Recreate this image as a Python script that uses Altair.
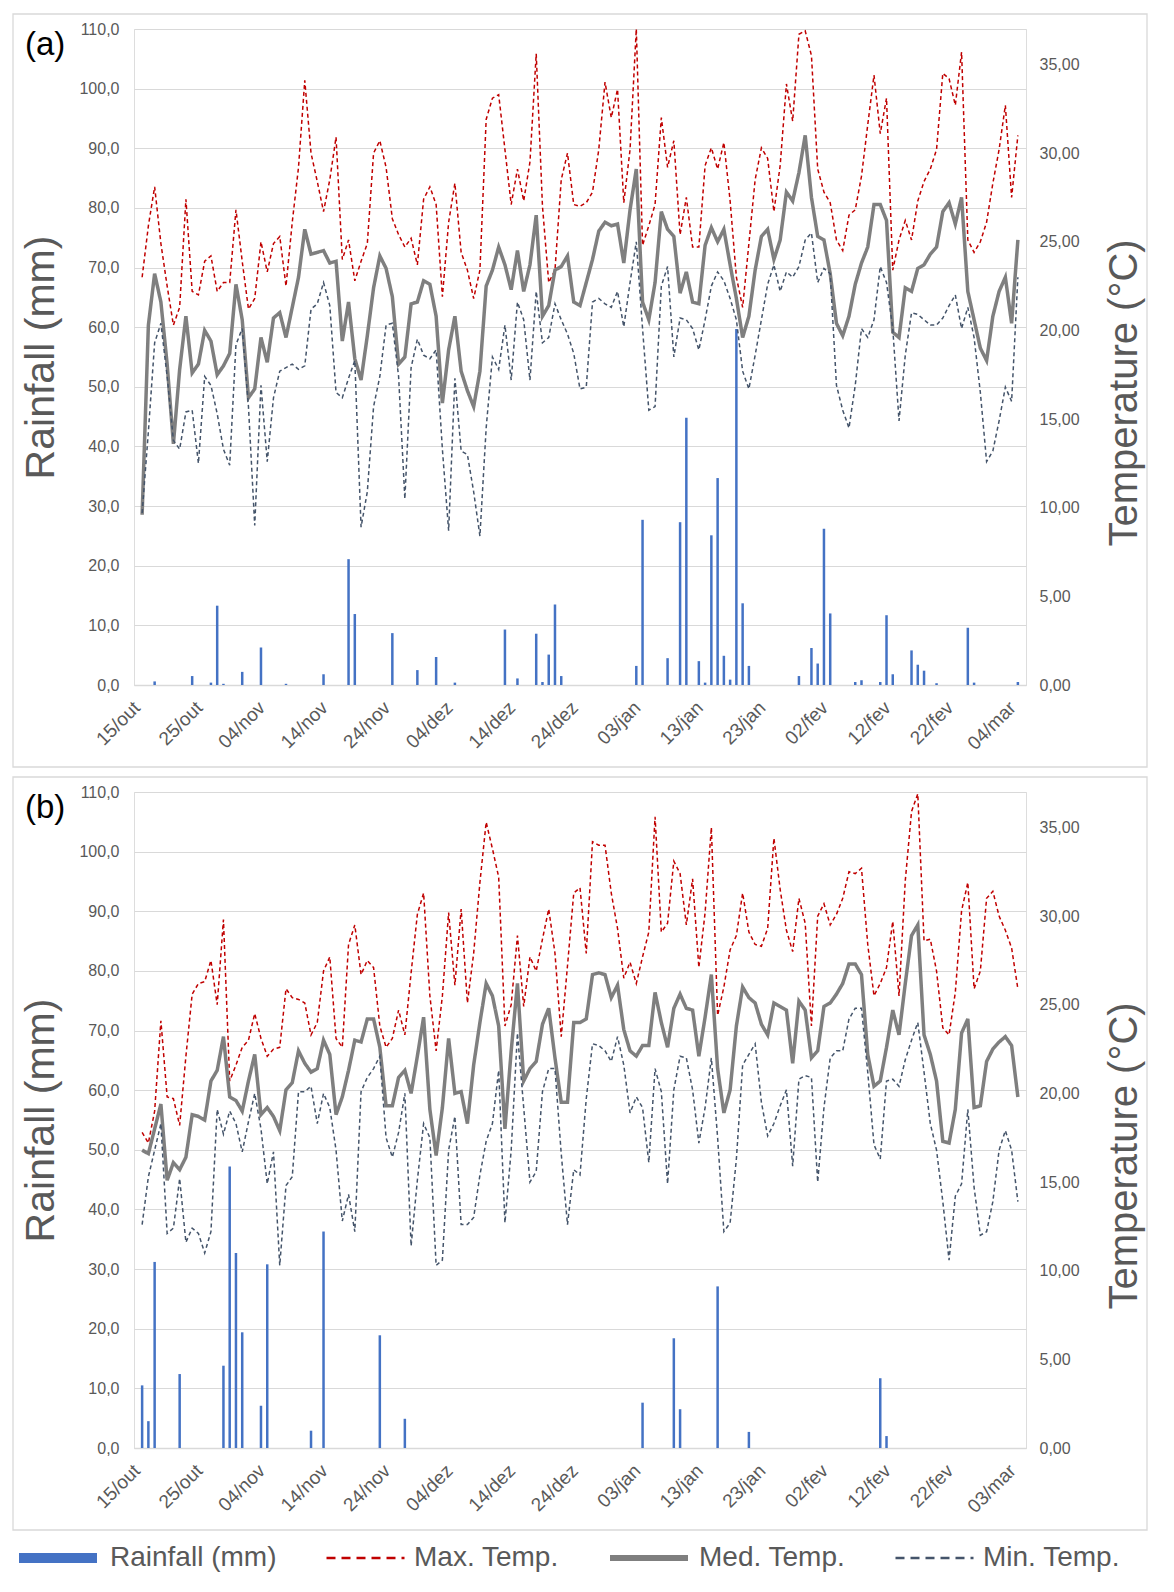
import altair as alt
import pandas as pd

# ---------------- data ----------------
TICKS_A = ["15/out", "25/out", "04/nov", "14/nov", "24/nov", "04/dez", "14/dez", "24/dez",
           "03/jan", "13/jan", "23/jan", "02/fev", "12/fev", "22/fev", "04/mar"]
TICKS_B = ["15/out", "25/out", "04/nov", "14/nov", "24/nov", "04/dez", "14/dez", "24/dez",
           "03/jan", "13/jan", "23/jan", "02/fev", "12/fev", "22/fev", "03/mar"]

max_a = [23.0, 25.9, 28.1, 24.9, 22.5, 20.3, 21.3, 27.4, 22.2, 22.0,
         23.9, 24.2, 22.2, 22.7, 22.7, 26.8, 23.9, 21.2, 21.8, 25.0,
         23.3, 24.9, 25.3, 22.5, 26.1, 29.2, 34.1, 30.0, 28.4, 26.7,
         28.5, 30.9, 24.0, 25.1, 22.8, 23.9, 24.9, 30.0, 30.7, 29.2,
         26.3, 25.4, 24.7, 25.2, 23.7, 27.4, 28.1, 27.1, 21.9, 26.1,
         28.3, 24.4, 23.4, 21.8, 23.4, 31.9, 33.1, 33.3, 30.2, 27.1,
         29.1, 27.3, 29.5, 35.6, 27.0, 22.7, 23.4, 28.5, 30.0, 27.1,
         27.0, 27.2, 27.8, 30.2, 34.0, 32.0, 33.6, 27.2, 30.2, 37.0,
         24.8, 25.9, 27.1, 32.0, 29.2, 30.7, 25.4, 27.5, 24.7, 24.7,
         29.3, 30.3, 29.1, 30.6, 27.3, 23.0, 21.3, 24.9, 28.5, 30.3,
         29.7, 26.7, 29.3, 33.9, 31.8, 36.7, 36.9, 35.5, 29.1, 27.8,
         27.2, 25.1, 24.5, 26.5, 26.8, 28.7, 31.6, 34.4, 31.1, 33.1,
         23.4, 25.1, 26.2, 25.1, 27.3, 28.4, 29.1, 30.2, 34.5, 34.2,
         32.7, 35.7, 25.1, 24.4, 25.0, 26.1, 28.3, 30.2, 32.7, 27.5,
         31.0]
med_a = [9.6, 20.3, 23.2, 21.6, 18.1, 13.6, 17.8, 20.8, 17.6, 18.1,
         20.0, 19.4, 17.5, 18.0, 18.7, 22.6, 20.6, 16.2, 16.7, 19.6,
         18.2, 20.7, 21.0, 19.6, 21.3, 23.0, 25.7, 24.3, 24.4, 24.5,
         23.8, 23.9, 19.4, 21.6, 18.4, 17.2, 19.7, 22.4, 24.2, 23.5,
         21.9, 18.1, 18.5, 21.5, 21.6, 22.8, 22.6, 20.8, 15.9, 18.9,
         20.8, 17.7, 16.6, 15.7, 17.7, 22.5, 23.4, 24.7, 23.7, 22.3,
         24.5, 22.2, 23.7, 26.5, 20.8, 21.4, 23.4, 23.6, 24.2, 21.6,
         21.4, 22.7, 24.0, 25.6, 26.1, 25.9, 26.0, 23.8, 26.8, 29.1,
         21.6, 20.6, 22.7, 26.7, 25.7, 25.3, 22.1, 23.3, 21.6, 21.5,
         24.8, 25.8, 25.0, 25.7, 23.7, 21.8, 19.6, 20.8, 23.4, 25.3,
         25.7, 24.0, 25.1, 27.8, 27.3, 28.9, 31.0, 27.5, 25.3, 25.1,
         23.2, 20.4, 19.7, 20.8, 22.6, 23.8, 24.7, 27.1, 27.1, 26.2,
         19.9, 19.6, 22.4, 22.2, 23.5, 23.7, 24.3, 24.7, 26.7, 27.2,
         26.0, 27.5, 22.2, 20.6, 19.0, 18.3, 20.8, 22.2, 23.0, 20.4,
         25.1]
min_a = [9.7, 14.3, 19.3, 20.4, 17.4, 13.8, 13.3, 15.4, 15.5, 12.5,
         17.4, 16.9, 15.3, 13.3, 12.4, 19.2, 20.1, 15.7, 9.0, 16.9,
         12.6, 16.2, 17.7, 17.9, 18.1, 17.8, 18.0, 21.2, 21.5, 22.7,
         21.4, 16.5, 16.2, 17.3, 18.3, 8.9, 10.9, 15.7, 17.4, 20.3,
         20.4, 17.4, 10.5, 17.9, 19.5, 18.6, 18.4, 18.9, 13.3, 8.7,
         17.3, 13.2, 13.0, 10.9, 8.4, 14.5, 18.5, 17.8, 20.3, 17.2,
         21.6, 20.6, 17.2, 22.2, 19.3, 19.6, 21.5, 20.6, 19.8, 18.7,
         16.7, 16.8, 21.6, 21.8, 21.5, 21.3, 22.2, 20.2, 22.7, 25.0,
         20.1, 15.5, 15.7, 22.5, 23.6, 18.5, 20.7, 20.6, 20.1, 18.9,
         20.6, 22.5, 23.3, 22.8, 21.8, 20.6, 17.7, 16.7, 18.6, 20.6,
         22.6, 23.7, 22.2, 23.3, 23.0, 23.6, 25.1, 25.5, 22.7, 23.5,
         23.2, 16.9, 15.5, 14.5, 16.9, 20.1, 19.6, 20.6, 23.6, 22.7,
         20.1, 14.9, 18.6, 21.0, 20.9, 20.6, 20.3, 20.3, 20.7, 21.4,
         22.0, 20.1, 21.3, 19.6, 16.5, 12.6, 13.2, 14.9, 16.8, 16.0,
         23.0]
rain_a_days = [2, 8, 11, 12, 13, 16, 19, 23, 29, 33, 34, 40, 44, 47, 50, 58, 60, 63, 64, 65,
               66, 67, 79, 80, 84, 86, 87, 89, 90, 91, 92, 93, 94, 95, 96, 97, 105, 107, 108, 109,
               110, 114, 115, 118, 119, 120, 123, 124, 125, 127, 132, 133, 140]
rain_a_mm = [0.6, 1.5, 0.4, 13.3, 0.2, 2.2, 6.3, 0.2, 1.8, 21.1, 11.9, 8.7, 2.5, 4.7, 0.4, 9.3, 1.1, 8.6, 0.5, 5.1,
             13.5, 1.5, 3.2, 27.7, 4.5, 27.3, 44.8, 4.0, 0.4, 25.1, 34.7, 4.9, 0.9, 59.7, 13.7, 3.2, 1.5, 6.2, 3.6, 26.2,
             12.0, 0.5, 0.8, 0.5, 11.7, 1.8, 5.8, 3.4, 2.4, 0.3, 9.6, 0.4, 0.5]

max_b = [17.8, 17.2, 19.0, 24.1, 19.8, 19.7, 18.2, 22.1, 25.6, 26.2,
         26.3, 27.5, 25.0, 29.8, 20.7, 21.6, 22.6, 23.0, 24.5, 23.1,
         22.1, 22.5, 22.6, 25.9, 25.4, 25.3, 25.1, 23.3, 24.0, 26.9,
         27.7, 23.1, 22.6, 28.4, 29.5, 26.7, 27.5, 27.1, 23.8, 22.6,
         23.1, 24.7, 23.3, 26.8, 30.1, 31.3, 25.5, 22.4, 25.5, 30.2,
         26.1, 30.4, 25.1, 27.9, 31.9, 35.3, 33.8, 32.2, 23.8, 25.0,
         28.9, 24.9, 27.7, 26.9, 28.7, 30.4, 27.9, 23.2, 27.2, 31.3,
         31.6, 27.9, 34.2, 34.0, 34.0, 31.3, 29.3, 26.5, 27.4, 26.2,
         27.7, 29.1, 35.6, 29.1, 29.6, 33.1, 32.4, 29.5, 32.1, 27.1,
         30.2, 35.0, 24.4, 26.0, 28.1, 28.9, 31.3, 29.1, 28.4, 28.3,
         29.3, 34.4, 31.5, 29.2, 28.0, 31.0, 29.6, 23.8, 30.0, 30.7,
         29.5, 30.1, 31.0, 32.5, 32.4, 32.7, 28.4, 25.5, 26.2, 27.1,
         29.7, 25.5, 32.0, 35.9, 36.9, 28.6, 28.7, 26.9, 23.7, 23.3,
         25.7, 30.3, 31.9, 25.9, 26.9, 31.0, 31.4, 30.0, 29.2, 28.2,
         25.9]
med_b = [16.8, 16.6, 18.0, 19.4, 15.1, 16.1, 15.7, 16.4, 18.8, 18.7,
         18.5, 20.7, 21.3, 23.2, 19.8, 19.6, 19.0, 20.7, 22.2, 18.8,
         19.2, 18.7, 17.9, 20.2, 20.6, 22.4, 21.7, 21.2, 21.4, 23.0,
         22.2, 18.8, 19.8, 21.3, 23.0, 22.9, 24.2, 24.2, 22.6, 19.3,
         19.3, 20.9, 21.3, 20.0, 22.1, 24.3, 19.1, 16.5, 19.2, 23.1,
         20.0, 20.1, 18.3, 21.6, 24.0, 26.2, 25.5, 23.8, 18.0, 22.4,
         26.2, 20.7, 21.4, 21.8, 23.9, 24.8, 22.0, 19.5, 19.5, 24.0,
         24.0, 24.2, 26.7, 26.8, 26.7, 25.4, 26.1, 23.6, 22.4, 22.1,
         22.7, 22.7, 25.7, 24.0, 22.6, 24.8, 25.6, 24.8, 24.7, 22.1,
         24.3, 26.7, 21.4, 18.9, 20.2, 23.8, 26.0, 25.4, 25.1, 23.9,
         23.3, 25.1, 24.9, 24.7, 21.7, 25.2, 24.7, 22.0, 22.4, 24.9,
         25.1, 25.6, 26.2, 27.3, 27.3, 26.7, 22.2, 20.4, 20.7, 22.6,
         24.7, 23.3, 26.2, 28.9, 29.5, 23.3, 22.2, 20.7, 17.3, 17.2,
         19.1, 23.4, 24.2, 19.2, 19.3, 21.8, 22.5, 22.9, 23.2, 22.7,
         19.8]
min_b = [12.6, 15.3, 16.8, 18.3, 12.1, 12.4, 15.2, 11.6, 12.4, 12.1,
         11.0, 12.2, 19.1, 17.7, 19.0, 18.3, 16.7, 18.4, 20.0, 18.0,
         14.9, 16.7, 10.3, 14.8, 15.3, 20.1, 20.1, 20.4, 18.3, 20.0,
         19.2, 16.8, 12.8, 14.3, 12.2, 20.1, 20.9, 21.4, 22.1, 17.5,
         16.4, 17.8, 20.0, 11.4, 15.1, 18.3, 17.5, 10.3, 10.6, 16.8,
         18.7, 12.6, 12.6, 13.0, 15.4, 17.3, 18.3, 21.3, 12.7, 16.8,
         23.4, 19.2, 15.0, 15.6, 20.1, 21.4, 21.4, 16.6, 12.6, 15.7,
         15.4, 19.7, 22.8, 22.7, 22.4, 21.8, 23.2, 21.6, 18.9, 19.8,
         19.2, 16.1, 21.4, 20.1, 14.9, 20.2, 22.1, 22.0, 20.2, 17.2,
         19.2, 22.0, 17.5, 12.2, 12.7, 16.3, 21.6, 22.2, 22.8, 19.5,
         17.6, 18.3, 19.3, 20.2, 15.9, 20.8, 21.0, 20.9, 15.0, 19.2,
         22.0, 22.4, 22.4, 24.2, 24.8, 24.8, 21.2, 17.1, 16.3, 20.7,
         20.8, 20.4, 21.9, 23.0, 24.0, 21.2, 18.3, 16.8, 13.9, 10.6,
         14.2, 14.9, 19.1, 14.7, 12.0, 12.2, 13.9, 16.8, 17.9, 16.8,
         13.9]
rain_b_days = [0, 1, 2, 6, 13, 14, 15, 16, 19, 20, 27, 29, 38, 42, 80, 85, 86, 92, 97, 118, 119]
rain_b_mm = [10.5, 4.5, 31.2, 12.4, 13.8, 47.2, 32.7, 19.4, 7.1, 30.8, 2.9, 36.3, 18.9, 4.9,
             7.6, 18.4, 6.5, 27.1, 2.7, 11.7, 2.0]

SERIES = ["Rainfall (mm)", "Max. Temp.", "Med. Temp.", "Min. Temp."]
PANEL_LABELS = ["(a)", "(b)"]
LEFT_TITLE = "Rainfall (mm)"
RIGHT_TITLE = "Temperature (°C)"

# ---------------- styles ----------------
COLORS = ["#4472C4", "#C00000", "#7F7F7F", "#44546A"]
LEGEND_DASHES = [[1, 0], [9, 6], [1, 0], [9, 6]]
LEGEND_WIDTHS = [10, 2.5, 6, 2.5]
LINE_DASH = [4, 3]
MED_WIDTH, THIN_WIDTH = 3.5, 1.5
FONT = "Liberation Sans"
TXT = "#595959"
GRID = "#D9D9D9"
W, H = 892, 656

legend = alt.Legend(title=None, orient="none", legendX=-120, legendY=1513,
                    direction="horizontal", symbolType="stroke", symbolSize=6084,
                    clipHeight=32,
                    labelFontSize=28, labelColor=TXT, labelFont=FONT, labelOffset=8,
                    columnPadding=48, labelLimit=400)


def panel(label, ticks, rain_days, rain_mm, tmax, tmed, tmin):
    n = len(tmax)
    days = list(range(n))
    temp_df = pd.DataFrame({
        "day": days * 3,
        "temp": tmax + tmed + tmin,
        "series": [SERIES[1]] * n + [SERIES[2]] * n + [SERIES[3]] * n,
    })
    rain_df = pd.DataFrame({"day": rain_days, "rain": rain_mm, "series": SERIES[0]})
    lab_df = pd.DataFrame({"label": [label], "ytitle": [RIGHT_TITLE]})

    label_expr = "[" + ",".join("'%s'" % t for t in ticks) + "][round(datum.value / 10)]"
    xscale = alt.Scale(domain=[-0.5, n - 0.5], nice=False, zero=False)
    xaxis = alt.Axis(values=list(range(0, n, 10)), labelExpr=label_expr, labelAngle=-45,
                     labelAlign="right", labelBaseline="top", labelOffset=-12, labelPadding=13,
                     ticks=False, tickSize=0, grid=False, domainColor=GRID, domainWidth=1.5,
                     title=None, labelFontSize=19, labelColor=TXT, labelFont=FONT,
                     labelFlush=False, labelOverlap=False)
    yleft = alt.Axis(orient="left", values=list(range(0, 111, 10)),
                     labelExpr="replace(format(datum.value, '.1f'), '.', ',')",
                     title=LEFT_TITLE, titleFontSize=41, titleFontWeight="normal",
                     titleColor=TXT, titleFont=FONT, titlePadding=16,
                     labelFontSize=16, labelColor=TXT, labelFont=FONT, labelPadding=15,
                     ticks=False, tickSize=0, domain=False, grid=True, gridColor=GRID,
                     labelFlush=False)
    yright = alt.Axis(orient="right", values=list(range(0, 36, 5)),
                      labelExpr="replace(format(datum.value, '.2f'), '.', ',')",
                      title=None,
                      labelFontSize=16, labelColor=TXT, labelFont=FONT, labelPadding=13,
                      ticks=False, tickSize=0, domain=False, grid=False, labelFlush=False)
    color = alt.Color("series:N", scale=alt.Scale(domain=SERIES, range=COLORS), legend=legend)
    is_med = "datum.series === '%s'" % SERIES[2]

    frame = alt.Chart(lab_df).mark_rect(fill="transparent", stroke=GRID, strokeWidth=1.3).encode(
        x=alt.value(-121), x2=alt.value(1013), y=alt.value(-15), y2=alt.value(738))
    bars = alt.Chart(rain_df).mark_bar(size=2.5).encode(
        x=alt.X("day:Q", scale=xscale, axis=xaxis),
        y=alt.Y("rain:Q", scale=alt.Scale(domain=[0, 110], nice=False), axis=yleft),
        color=color,
    )
    lines = alt.Chart(temp_df).mark_line(clip=True).encode(
        x=alt.X("day:Q", scale=xscale, axis=xaxis),
        y=alt.Y("temp:Q", scale=alt.Scale(domain=[0, 37], nice=False), axis=yright),
        color=color,
        strokeDash=alt.condition(is_med, alt.value([1, 0]), alt.value(LINE_DASH)),
        strokeWidth=alt.condition(is_med, alt.value(MED_WIDTH), alt.value(THIN_WIDTH)),
        order="day:Q",
    )
    # legend-only layer (no rows drawn): gives the legend its symbol styles
    legend_layer = alt.Chart(rain_df).mark_line().encode(
        color=color,
        strokeDash=alt.StrokeDash("series:N", scale=alt.Scale(domain=SERIES, range=LEGEND_DASHES), legend=legend),
        strokeWidth=alt.StrokeWidth("series:N", scale=alt.Scale(type="ordinal", domain=SERIES, range=LEGEND_WIDTHS), legend=legend),
    ).transform_filter("false")
    text = alt.Chart(lab_df).mark_text(align="left", baseline="alphabetic", fontSize=33,
                                       font=FONT, color="black").encode(
        x=alt.value(-109), y=alt.value(26), text="label:N")
    rtitle = alt.Chart(lab_df).mark_text(align="center", baseline="middle", fontSize=40, angle=270,
                                         font=FONT, color=TXT).encode(
        x=alt.value(991), y=alt.value(364), text="ytitle:N")
    return alt.layer(frame, bars, lines, legend_layer, text, rtitle).resolve_scale(
        y="independent").properties(width=W, height=H)


pa = panel(PANEL_LABELS[0], TICKS_A, rain_a_days, rain_a_mm, max_a, med_a, min_a)
pb = panel(PANEL_LABELS[1], TICKS_B, rain_b_days, rain_b_mm, max_b, med_b, min_b)

chart = alt.vconcat(pa, pb, spacing=6).properties(
    padding={"left": 3, "top": 4, "right": 3, "bottom": 3},
    background="white",
).configure_view(stroke="transparent").configure(font=FONT)

chart.save("out.html", embed_options={"renderer": "svg", "actions": False})
